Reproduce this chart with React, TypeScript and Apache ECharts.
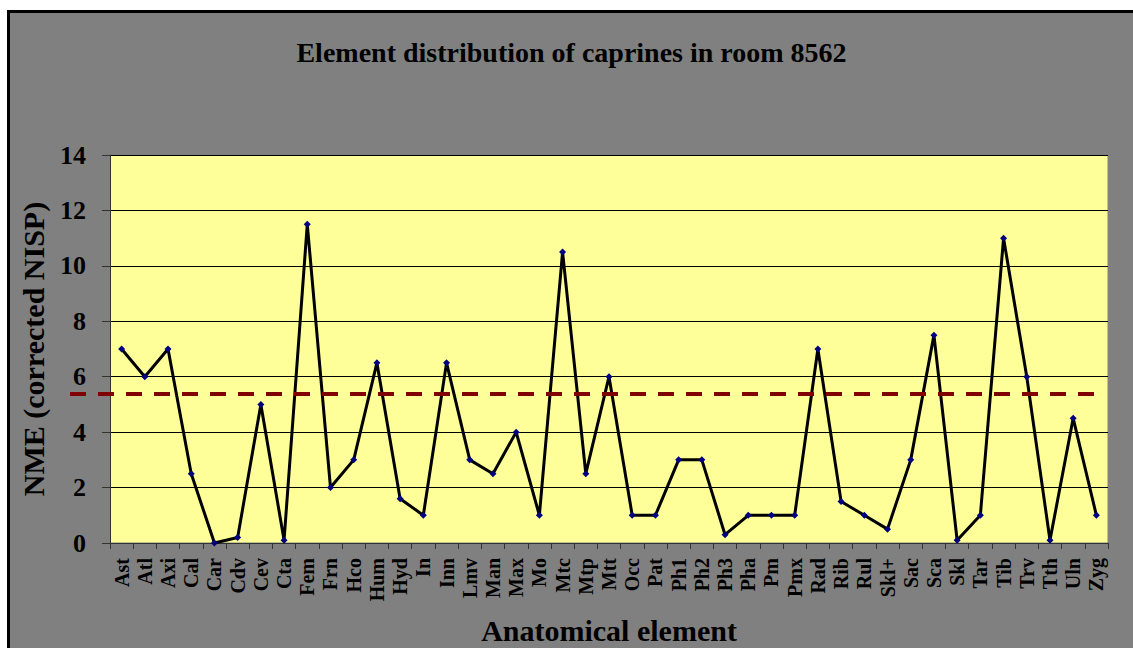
import React, { useEffect, useRef } from "react";
import * as echarts from "echarts";

const categories = ["Ast","Atl","Axi","Cal","Car","Cdv","Cev","Cta","Fem","Frn","Hco","Hum","Hyd","In","Inn","Lmv","Man","Max","Mo","Mtc","Mtp","Mtt","Occ","Pat","Ph1","Ph2","Ph3","Pha","Pm","Pmx","Rad","Rib","Rul","Skl+","Sac","Sca","Skl","Tar","Tib","Trv","Tth","Uln","Zyg"];
const nmeValues = [7,6,7,2.5,0,0.2,5,0.1,11.5,2,3,6.5,1.6,1,6.5,3,2.5,4,1,10.5,2.5,6,1,1,3,3,0.3,1,1,1,7,1.5,1,0.5,3,7.5,0.1,1,11,6,0.1,4.5,1];
const referenceLevel = 5.38;
const referenceSpan = [0, 1];
const yTicks = { min: 0, max: 14, interval: 2 };

const FONT = "'Liberation Serif', 'Times New Roman', serif";

export default function App() {
  const ref = useRef<HTMLDivElement>(null);
  useEffect(() => {
    if (!ref.current) return;
    const chart = echarts.init(ref.current, null, { renderer: "svg" });
    chart.setOption({
      animation: false,
      backgroundColor: "#808080",
      title: {
        text: "Element distribution of caprines in room 8562",
        left: "center",
        top: 20,
        textStyle: { fontFamily: FONT, fontWeight: "bold", fontSize: 28, color: "#000" },
      },
      grid: [
        {
          left: 100,
          top: 142,
          right: 25,
          bottom: 105,
          outerBoundsMode: "none",
          containLabel: false,
          show: true,
          backgroundColor: "#FFFF99",
          borderColor: "#808080",
          borderWidth: 1,
        },
        {
          left: 60,
          top: 142,
          right: 39,
          bottom: 105,
          outerBoundsMode: "none",
          containLabel: false,
          show: false,
        },
      ],
      xAxis: [
        {
          type: "category",
          gridIndex: 0,
          data: categories,
          boundaryGap: true,
          name: "Anatomical element",
          nameLocation: "middle",
          nameGap: 72,
          nameTextStyle: { fontFamily: FONT, fontWeight: "bold", fontSize: 30, color: "#000" },
          axisLine: { lineStyle: { color: "#333", width: 1 } },
          axisTick: { show: true, alignWithLabel: false, length: 6, lineStyle: { color: "#333" }, interval: 0 },
          axisLabel: {
            rotate: 90,
            interval: 0,
            margin: 15,
            fontFamily: FONT,
            fontWeight: "bold",
            fontSize: 20,
            color: "#000",
          },
        },
        {
          type: "value",
          gridIndex: 1,
          min: 0,
          max: 1,
          show: false,
        },
      ],
      yAxis: [
        {
          type: "value",
          gridIndex: 0,
          min: yTicks.min,
          max: yTicks.max,
          interval: yTicks.interval,
          name: "NME (corrected NISP)",
          nameLocation: "middle",
          nameGap: 62,
          nameTextStyle: { fontFamily: FONT, fontWeight: "bold", fontSize: 30, color: "#000" },
          axisLine: { show: true, lineStyle: { color: "#333", width: 1 } },
          axisTick: { show: true, length: 8, lineStyle: { color: "#333" } },
          axisLabel: { fontFamily: FONT, fontWeight: "bold", fontSize: 26, color: "#000", margin: 24 },
          splitLine: { show: true, lineStyle: { color: "#000", width: 1 } },
        },
        {
          type: "value",
          gridIndex: 1,
          min: yTicks.min,
          max: yTicks.max,
          show: false,
        },
      ],
      series: [
        {
          type: "line",
          data: nmeValues,
          xAxisIndex: 0,
          yAxisIndex: 0,
          symbol: "diamond",
          symbolSize: 7,
          lineStyle: { color: "#000", width: 3 },
          itemStyle: { color: "#000080" },
          z: 3,
        },
        {
          type: "line",
          xAxisIndex: 1,
          yAxisIndex: 1,
          data: referenceSpan.map((x) => [x, referenceLevel]),
          symbol: "none",
          clip: false,
          lineStyle: { color: "#800000", width: 4, type: [16, 12] },
          z: 4,
        },
      ],
    });
    return () => chart.dispose();
  }, []);
  return (
    <div
      style={{
        position: "absolute",
        left: 7,
        top: 10,
        width: 1126,
        height: 638,
        borderTop: "3px solid #000",
        borderLeft: "3px solid #000",
        boxSizing: "border-box",
        background: "#808080",
      }}
    >
      <div ref={ref} style={{ width: 1123, height: 635 }} />
    </div>
  );
}
